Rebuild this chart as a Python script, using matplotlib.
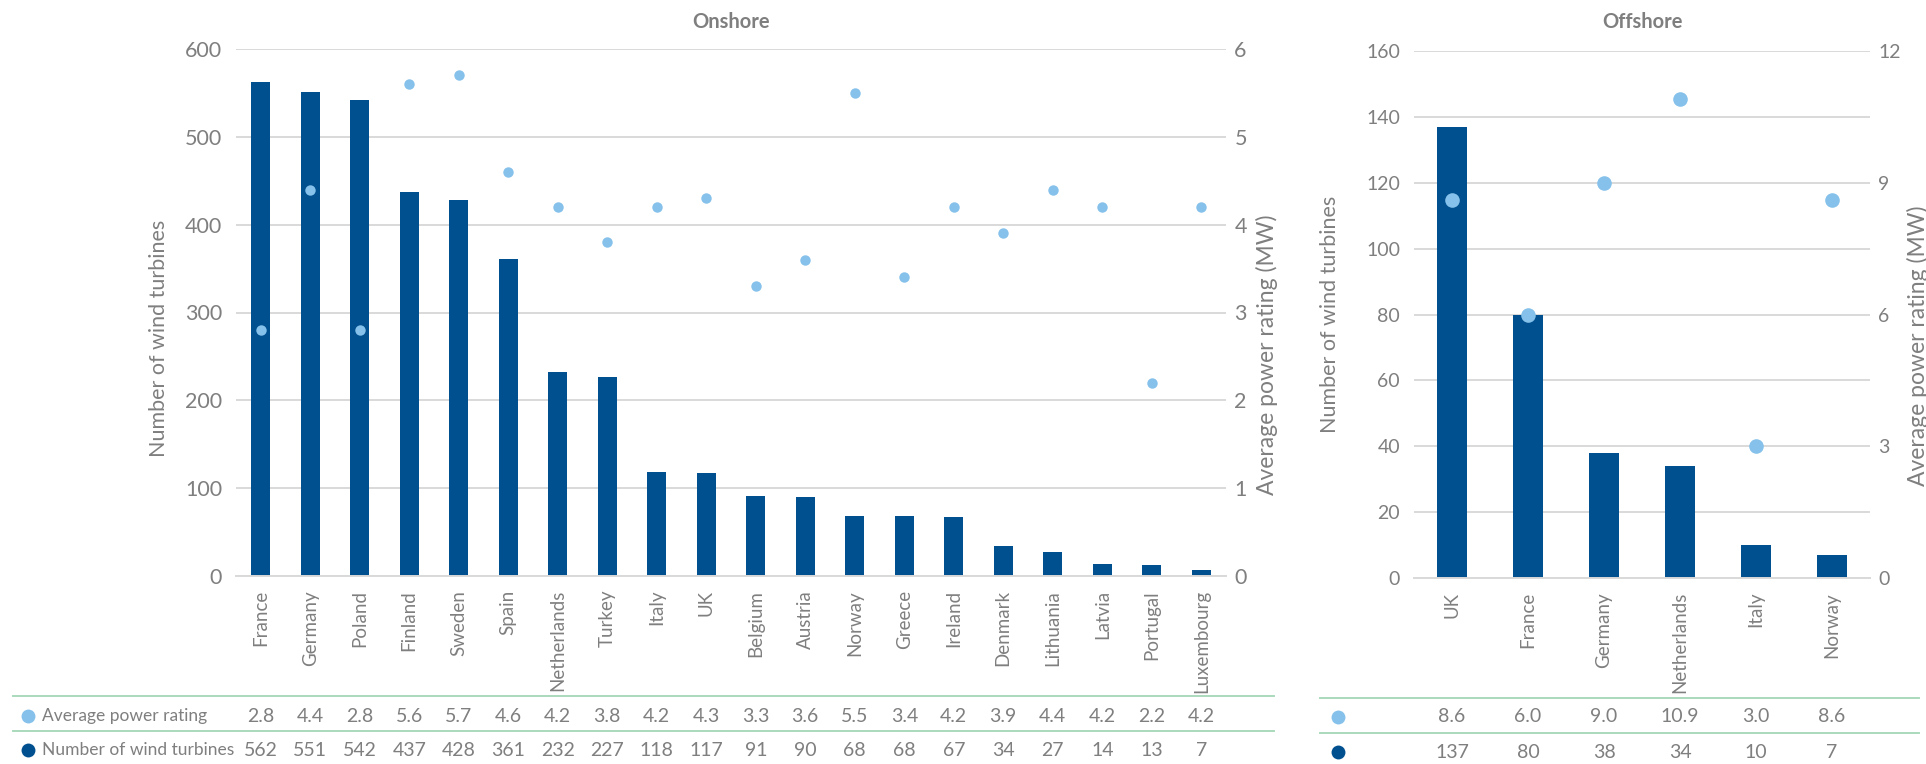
import matplotlib
matplotlib.use("Agg")
import matplotlib.pyplot as plt
from matplotlib.lines import Line2D
from matplotlib.transforms import blended_transform_factory

# onshore data
on_countries = ["France", "Germany", "Poland", "Finland", "Sweden", "Spain", "Netherlands",
                "Turkey", "Italy", "UK", "Belgium", "Austria", "Norway", "Greece", "Ireland",
                "Denmark", "Lithuania", "Latvia", "Portugal", "Luxembourg"]
on_turbines = [562, 551, 542, 437, 428, 361, 232, 227, 118, 117, 91, 90, 68, 68, 67, 34, 27, 14, 13, 7]
on_power = [2.8, 4.4, 2.8, 5.6, 5.7, 4.6, 4.2, 3.8, 4.2, 4.3, 3.3, 3.6, 5.5, 3.4, 4.2, 3.9, 4.4, 4.2, 2.2, 4.2]

# offshore data
off_countries = ["UK", "France", "Germany", "Netherlands", "Italy", "Norway"]
off_turbines = [137, 80, 38, 34, 10, 7]
off_power = [8.6, 6.0, 9.0, 10.9, 3.0, 8.6]

W, H = 1926, 764
DARK = "#00508f"
LIGHT = "#85c1ea"
GREY = "#7f7f7f"
GRID = "#d9d9d9"
TLINE = "#a9dbbb"

plt.rcParams["font.family"] = ["Lato", "DejaVu Sans"]

fig = plt.figure(figsize=(W / 100, H / 100), dpi=100)


def fy(y):
    # pixel row -> figure fraction
    return 1 - y / H


def panel(x0, x1, ytop, ybot, names, counts, power, yticks, pticks, title,
          bar_w, dot_ms, lab_left, lab_right, row_y, tick_fs, lab_y):
    ax = fig.add_axes([x0 / W, fy(ybot), (x1 - x0) / W, (ybot - ytop) / H])
    x = list(range(len(names)))
    ax.bar(x, counts, width=bar_w, color=DARK, zorder=2)
    ax.set_xlim(-0.5, len(names) - 0.5)
    ax.set_ylim(yticks[0], yticks[-1])
    ax.set_yticks(yticks)
    ax.grid(axis="y", color=GRID, lw=1.4, zorder=0)
    ax.set_axisbelow(True)
    for s in ["left", "right", "top"]:
        ax.spines[s].set_visible(False)
    ax.spines["bottom"].set_color(GRID)
    ax.spines["bottom"].set_linewidth(1.4)
    ax.set_xticks(x)
    ax.set_xticklabels(names, rotation=90, fontsize=13.5, color=GREY, va="top")
    ax.tick_params(axis="x", length=0, pad=10)
    ax.tick_params(axis="y", length=0, pad=10, labelsize=tick_fs, labelcolor=GREY)
    ax.set_ylabel("Number of wind turbines", fontsize=15.5, color=GREY)
    ax.yaxis.set_label_coords((lab_left - x0) / (x1 - x0), lab_y[0])

    ax2 = ax.twinx()
    ax2.plot(x, power, "o", ms=dot_ms, color=LIGHT, mec="none", zorder=3)
    ax2.set_ylim(pticks[0], pticks[-1])
    ax2.set_yticks(pticks)
    for s in ax2.spines.values():
        s.set_visible(False)
    ax2.tick_params(axis="y", length=0, pad=6, labelsize=tick_fs, labelcolor=GREY)
    ax2.set_ylabel("Average power rating (MW)", fontsize=16.5, color=GREY, rotation=90)
    ax2.yaxis.set_label_coords((lab_right - x0) / (x1 - x0), lab_y[1])

    tr = blended_transform_factory(ax.transAxes, fig.transFigure)
    ax.text(0.5, fy(22), title, transform=tr, ha="center", va="center",
            fontsize=14.5, color=GREY, fontweight="bold")

    # table values under each bar
    tt = blended_transform_factory(ax.transData, fig.transFigure)
    for i in x:
        ax.text(i, fy(row_y[0]), "%.1f" % power[i], transform=tt, ha="center", va="center",
                fontsize=14, color=GREY, clip_on=False)
        ax.text(i, fy(row_y[1]), "%d" % counts[i], transform=tt, ha="center", va="center",
                fontsize=14, color=GREY, clip_on=False)
    return ax


panel(236, 1226, 49, 576, on_countries, on_turbines, on_power,
      list(range(0, 601, 100)), list(range(0, 7)), "Onshore",
      0.39, 7.5, 169, 1256, (716, 750), 15.5, (0.45, 0.42))
panel(1414, 1870, 51, 578, off_countries, off_turbines, off_power,
      list(range(0, 161, 20)), list(range(0, 13, 3)), "Offshore",
      0.4, 10.5, 1340, 1907, (717, 752), 14, (0.5, 0.44))

# table lines
for xa, xb, ys in [(13, 1274, (696, 731)), (1320, 1919, (698, 733))]:
    for y in ys:
        fig.add_artist(Line2D([xa / W, xb / W], [fy(y), fy(y)], color=TLINE, lw=1.4,
                              transform=fig.transFigure))

# row legend markers
for mx, (y1, y2) in [(28, (716, 750)), (1338, (717, 752))]:
    fig.add_artist(Line2D([mx / W], [fy(y1)], marker="o", ms=10, color=LIGHT, mec="none",
                          transform=fig.transFigure))
    fig.add_artist(Line2D([mx / W], [fy(y2)], marker="o", ms=10, color=DARK, mec="none",
                          transform=fig.transFigure))

fig.text(42 / W, fy(716), "Average power rating", fontsize=12.5, color=GREY, va="center")
fig.text(42 / W, fy(750), "Number of wind turbines", fontsize=12.5, color=GREY, va="center")

fig.savefig("out.png", dpi=100)
